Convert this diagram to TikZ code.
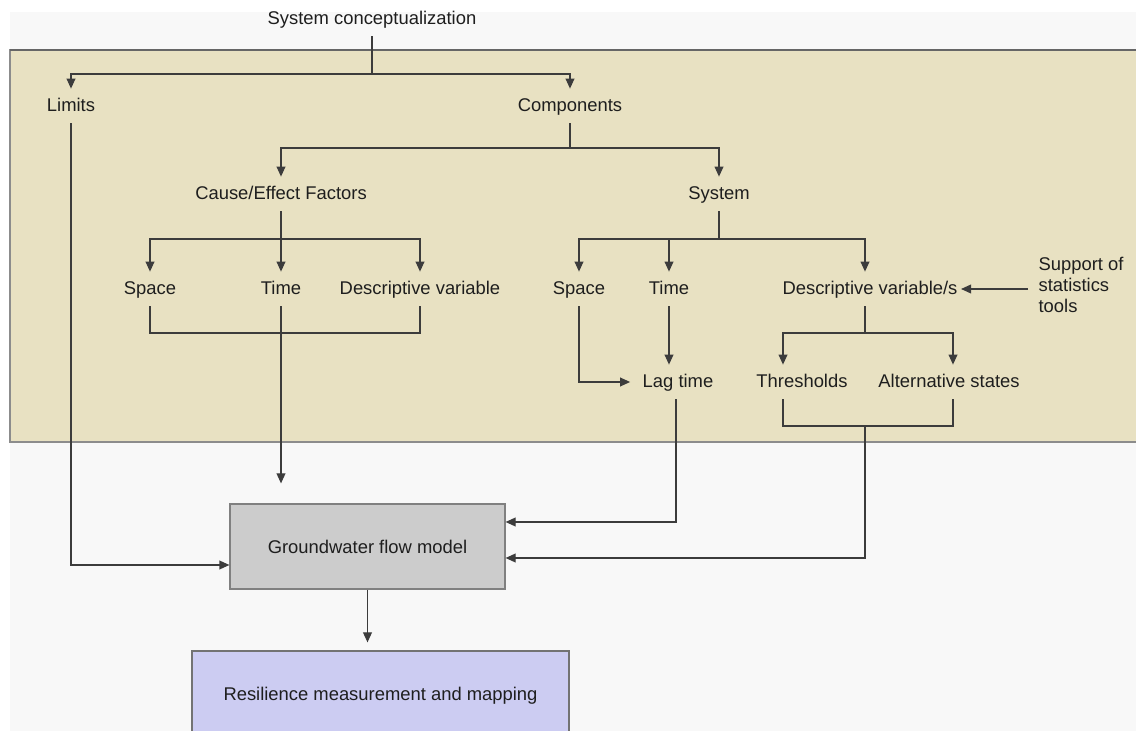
\documentclass[tikz,border=0pt]{standalone}
\usepackage{fontspec}
\setmainfont{Liberation Sans}
\usetikzlibrary{arrows.meta,positioning}

\definecolor{bandbeige}{RGB}{232,225,194}
\definecolor{pagegray}{RGB}{248,248,248}
\definecolor{modelgray}{RGB}{204,204,204}
\definecolor{mapblue}{RGB}{204,204,242}
\definecolor{linegray}{RGB}{60,60,60}
\definecolor{inkgray}{RGB}{30,30,30}

\begin{document}
\begin{tikzpicture}[
        x=0.5pt, y=-0.5pt,
        color=linegray,
        every node/.style={font=\fontsize{9.2}{10.5}\selectfont, text=inkgray},
        every path/.style={line width=.6pt},
        >={Triangle[length=5pt,width=4.4pt]},
        term/.style={inner xsep=1.5pt, inner ysep=3.5pt, text height=1.45ex, text depth=.4ex},
        model/.style={draw=black!50, fill=modelgray, minimum width=137.5pt, minimum height=42.5pt},
        output/.style={draw=black!55, fill=mapblue, minimum width=188.5pt, minimum height=45pt}
    ]

    \useasboundingbox (0,0) rectangle (1136,731);

    % Background
    \fill[white] (0,0) rectangle (1136,731);
    \fill[pagegray] (10,12) rectangle (1136,731);
    \filldraw[fill=bandbeige, draw=black!45, line width=.7pt] (10,50) rectangle (1140,442);
    \draw[black!60, line width=1.1pt] (10,50) -- (1136,50);

    % Nodes
    \node[term] (sc) at (372,19) {System conceptualization};
    \node[term] (limits) at (71,106) {Limits};
    \node[term] (comp) at (570,106) {Components};

    \node[term] (cef) at (281,194) {Cause/Effect Factors};
    \node[term] (sys) at (719,194) {System};

    \node[term] (sp1) at (150,289) {Space};
    \node[term] (tm1) at (281,289) {Time};
    \node[term] (dv1) at (420,289) {Descriptive variable};

    \node[term] (sp2) at (579,289) {Space};
    \node[term] (tm2) at (669,289) {Time};
    \node[term] (dv2) at (870,289) {Descriptive variable/s};
    \node[align=left, anchor=west, inner xsep=5pt] (sup) at (1028,285) {Support of\\statistics\\tools};

    \node[term] (lag) at (678,382) {Lag time};
    \node[term] (thr) at (802,382) {Thresholds};
    \node[term] (alt) at (949,382) {Alternative states};

    \node[model] (gw) at (367.5,546.5) {Groundwater flow model};
    \node[output] (res) at (380.5,696) {Resilience measurement and mapping};

    % Edges
    \coordinate (j1) at (372,74);
    \coordinate (j2) at (570,148);
    \coordinate (j3) at (281,239);
    \coordinate (j4) at (719,239);
    \coordinate (j5) at (865,333);
    \coordinate (b1) at (281,333);
    \coordinate (b2) at (865,426);

    \draw (sc) -- (j1);
    \draw[->] (j1) -| (limits);
    \draw[->] (j1) -| (comp);

    \draw (comp) -- (j2);
    \draw[->] (j2) -| (cef);
    \draw[->] (j2) -| (sys);

    \draw[->] (cef) -- (tm1);
    \draw[->] (j3) -| (sp1);
    \draw[->] (j3) -| (dv1);
    \draw (sp1) |- (b1) -| (dv1);
    \draw[->, shorten >=10pt] (tm1) -- (tm1 |- gw.north);
    \draw[->] (limits) |- ([yshift=-9.25pt]gw.west);

    \draw (sys) -- (j4);
    \draw[->] (j4) -| (sp2);
    \draw[->] (j4) -| (tm2);
    \draw[->] (j4) -| (dv2.north -| j5);
    \draw[->] (sup.west |- dv2) -- (dv2);

    \draw[->, shorten >=4.5pt] (sp2) |- (lag);
    \draw[->] (tm2) -- (tm2 |- lag.north);
    \draw (dv2.south -| j5) -- (j5);
    \draw[->] (j5) -| ([xshift=-9.5pt]thr.north);
    \draw[->] (j5) -| ([xshift=2pt]alt.north);
    \draw ([xshift=-9.5pt]thr.south) |- (b2) -| ([xshift=2pt]alt.south);

    \draw[->] (b2) |- ([yshift=-5.75pt]gw.east);
    \draw[->] ([xshift=-1pt]lag.south) |- ([yshift=12.25pt]gw.east);
    \draw[->, shorten >=4pt] (gw) -- (gw.south |- res.north);

\end{tikzpicture}
\end{document}
